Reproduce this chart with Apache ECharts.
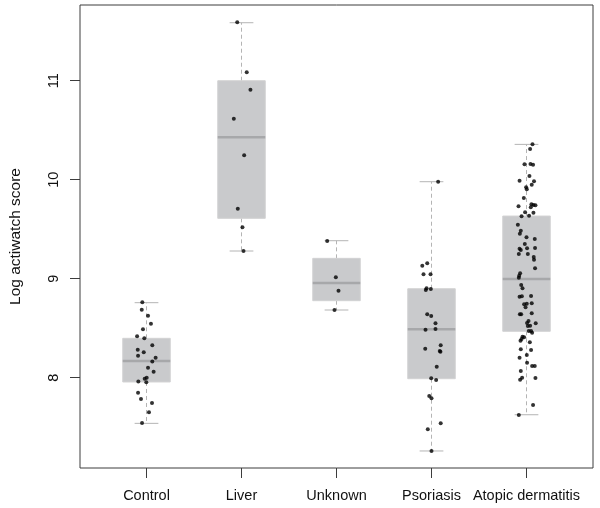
<!DOCTYPE html>
<html>
<head>
<meta charset="utf-8">
<script src="https://cdn.jsdelivr.net/npm/echarts@6/dist/echarts.min.js"></script>
<style>html,body{margin:0;padding:0;background:#fff}#c{width:600px;height:508px}</style>
</head>
<body>
<div id="c"></div>
<script>
// ---- data ----
const categories = ["Control", "Liver", "Unknown", "Psoriasis", "Atopic dermatitis"];
const yTicks = [8, 9, 10, 11];
// [lower whisker, Q1, median, Q3, upper whisker]
const boxStats = [
  [7.539, 7.957, 8.169, 8.398, 8.758],
  [9.280, 9.610, 10.430, 11.000, 11.586],
  [8.684, 8.778, 8.957, 9.206, 9.384],
  [7.260, 7.990, 8.489, 8.899, 9.980],
  [7.626, 8.469, 8.997, 9.633, 10.357]
];
// points: [jitter offset (x units), value]
const controlPts = [[-0.044,8.762],[-0.050,8.687],[0.016,8.626],[0.047,8.545],[-0.037,8.489],[-0.099,8.418],[-0.023,8.398],[0.061,8.327],[-0.092,8.283],[-0.029,8.256],[-0.089,8.222],[0.096,8.202],[0.061,8.165],[0.016,8.101],[0.075,8.061],[0.002,8.000],[-0.019,7.990],[-0.086,7.963],[-0.002,7.953],[-0.089,7.848],[-0.058,7.785],[0.058,7.744],[0.026,7.650],[-0.047,7.542]];
const liverPts = [[-0.045,11.590],[0.055,11.085],[0.094,10.909],[-0.081,10.616],[0.028,10.246],[-0.039,9.707],[0.010,9.519],[0.021,9.279]];
const unknownPts = [[-0.098,9.381],[-0.007,9.016],[0.021,8.879],[-0.021,8.684]];
const psoriasisPts = [[0.070,9.980],[-0.097,9.131],[-0.045,9.156],[-0.084,9.044],[-0.010,9.044],[-0.052,8.903],[-0.060,8.886],[-0.007,8.896],[-0.045,8.640],[-0.003,8.623],[0.042,8.549],[-0.063,8.485],[0.042,8.492],[0.097,8.327],[-0.066,8.293],[0.087,8.270],[0.094,8.263],[0.055,8.111],[-0.003,7.994],[0.049,7.977],[-0.024,7.815],[0.000,7.792],[0.097,7.539],[-0.039,7.479],[0.000,7.260]];
const atopicPts = [[0.063,10.358],[0.038,10.310],[-0.021,10.156],[0.042,10.159],[0.069,10.152],[0.031,10.037],[-0.073,9.990],[0.079,9.984],[0.055,9.950],[-0.004,9.923],[0.003,9.903],[-0.028,9.815],[0.052,9.752],[0.073,9.745],[0.094,9.741],[0.045,9.721],[-0.084,9.731],[-0.015,9.671],[0.073,9.667],[-0.052,9.630],[0.027,9.636],[-0.091,9.545],[-0.060,9.485],[-0.070,9.455],[0.000,9.418],[0.087,9.401],[-0.018,9.350],[-0.073,9.303],[-0.060,9.290],[0.006,9.307],[0.090,9.310],[-0.081,9.249],[0.014,9.249],[0.076,9.219],[0.079,9.192],[0.090,9.105],[-0.067,9.055],[-0.077,9.030],[-0.081,9.010],
  [-0.056,8.936],[-0.042,8.903],[-0.073,8.818],[-0.049,8.822],[0.048,8.825],[0.055,8.752],[-0.025,8.741],[0.003,8.747],[-0.010,8.711],[-0.070,8.640],[-0.056,8.640],[0.055,8.650],[0.021,8.573],[0.006,8.553],[0.097,8.549],[0.038,8.525],[0.014,8.522],[0.024,8.472],[0.048,8.472],[0.059,8.455],[-0.042,8.414],[-0.025,8.408],[-0.052,8.391],[-0.063,8.374],[0.035,8.358],[-0.060,8.287],[0.048,8.280],[0.003,8.229],[-0.073,8.202],[0.006,8.152],[0.059,8.118],[0.087,8.118],[-0.060,8.068],[-0.046,8.000],[-0.067,7.980],[0.094,7.997],[0.069,7.724],[-0.081,7.623]];
const groupPoints = [controlPts, liverPts, unknownPts, psoriasisPts, atopicPts];

// ---- build ----
const BOX_HALF = 0.25, STAPLE_HALF = 0.125;
const boxData = boxStats.map((s, i) => [i + 1].concat(s));
const scatterData = [];
groupPoints.forEach((pts, i) => pts.forEach(p => scatterData.push([i + 1 + p[0], p[1]])));

const FONT = "'Liberation Sans', Arial, Helvetica, sans-serif";
const chart = echarts.init(document.getElementById('c'), null, {renderer: 'canvas'});
chart.setOption({
  animation: false,
  backgroundColor: '#fff',
  grid: {left: 78, right: 7, top: 5, bottom: 40, show: true, borderColor: '#3c3c3c', borderWidth: 1, backgroundColor: 'transparent'},
  xAxis: {
    type: 'value', min: 0.3, max: 5.7,
    axisLine: {show: false},
    splitLine: {show: false},
    axisTick: {show: true, length: 10, lineStyle: {color: '#3c3c3c', width: 1}, customValues: [1, 2, 3, 4, 5]},
    axisLabel: {customValues: [1, 2, 3, 4, 5], formatter: v => categories[Math.round(v) - 1], color: '#111', fontFamily: FONT, fontSize: 14.5, margin: 20}
  },
  yAxis: {
    type: 'value', min: 7.088, max: 11.765,
    name: 'Log actiwatch score', nameLocation: 'middle', nameGap: 56, nameRotate: 90,
    nameTextStyle: {color: '#111', fontFamily: FONT, fontSize: 15.5},
    axisLine: {show: false},
    splitLine: {show: false},
    axisTick: {show: true, length: 10, lineStyle: {color: '#3c3c3c', width: 1}, customValues: yTicks},
    axisLabel: {customValues: yTicks, rotate: 90, color: '#111', fontFamily: FONT, fontSize: 14.5, margin: 19}
  },
  series: [
    {
      type: 'custom',
      data: boxData,
      encode: {x: 0, y: [1, 2, 3, 4, 5]},
      z: 2,
      renderItem: function (params, api) {
        const x = api.value(0), lo = api.value(1), q1 = api.value(2), med = api.value(3), q3 = api.value(4), hi = api.value(5);
        const tl = api.coord([x - BOX_HALF, q3]);
        const br = api.coord([x + BOX_HALF, q1]);
        const cHi = api.coord([x, hi]), cLo = api.coord([x, lo]), cQ3 = api.coord([x, q3]), cQ1 = api.coord([x, q1]);
        const sL = api.coord([x - STAPLE_HALF, hi])[0], sR = api.coord([x + STAPLE_HALF, hi])[0];
        const mL = api.coord([x - BOX_HALF, med]), mR = api.coord([x + BOX_HALF, med]);
        const wStyle = {stroke: '#b4b4b4', lineWidth: 1, lineDash: [4, 3], fill: null};
        const stStyle = {stroke: '#b4b4b4', lineWidth: 1, fill: null};
        return {
          type: 'group',
          children: [
            {type: 'line', shape: {x1: cQ3[0], y1: cQ3[1], x2: cHi[0], y2: cHi[1]}, style: wStyle},
            {type: 'line', shape: {x1: cQ1[0], y1: cQ1[1], x2: cLo[0], y2: cLo[1]}, style: wStyle},
            {type: 'line', shape: {x1: sL, y1: cHi[1], x2: sR, y2: cHi[1]}, style: stStyle},
            {type: 'line', shape: {x1: sL, y1: cLo[1], x2: sR, y2: cLo[1]}, style: stStyle},
            {type: 'rect', shape: {x: tl[0], y: tl[1], width: br[0] - tl[0], height: br[1] - tl[1]}, style: {fill: '#c9cacc', stroke: '#d2d2d3', lineWidth: 1}},
            {type: 'line', shape: {x1: mL[0], y1: mL[1], x2: mR[0], y2: mR[1]}, style: {stroke: '#a7a8aa', lineWidth: 2.5}}
          ]
        };
      }
    },
    {
      type: 'scatter',
      data: scatterData,
      symbol: 'circle',
      symbolSize: 4,
      itemStyle: {color: '#000'},
      z: 5
    }
  ]
});
</script>
</body>
</html>
